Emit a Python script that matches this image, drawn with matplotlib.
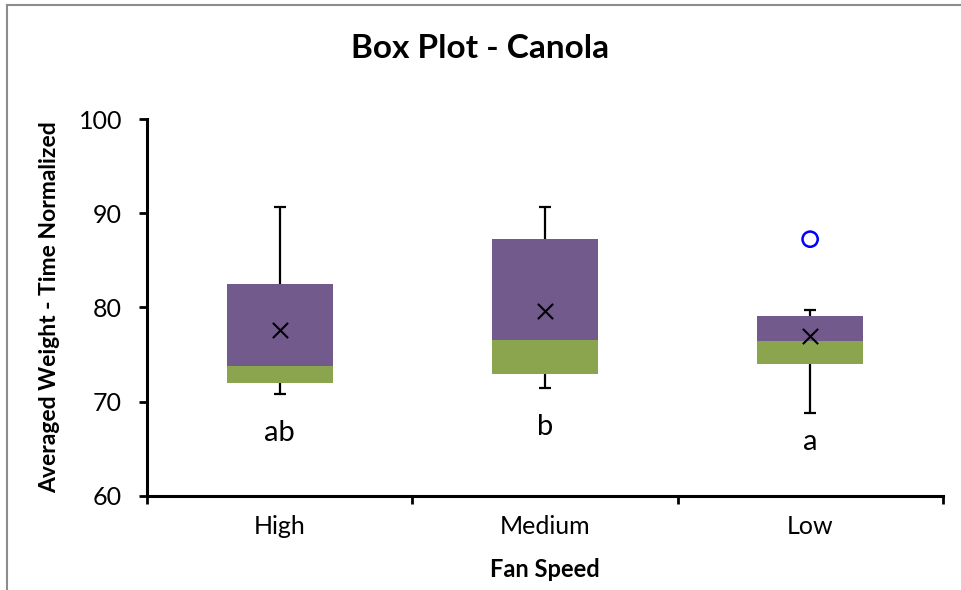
import matplotlib
matplotlib.use("Agg")
import matplotlib.pyplot as plt
from matplotlib.lines import Line2D

categories = ["High", "Medium", "Low"]
whisker_low = [70.8, 71.45, 68.8]
q1 = [71.93, 72.95, 73.95]
median = [73.8, 76.5, 76.45]
q3 = [82.44, 87.32, 79.08]
whisker_high = [90.65, 90.65, 79.68]
means = [77.56, 79.64, 76.99]
outlier_cat = [2]
outlier_val = [87.25]
letters = ["ab", "b", "a"]
letter_y = [66.66, 67.3, 65.7]
yticks = [60, 70, 80, 90, 100]

plt.rcParams['font.family'] = ['Lato', 'DejaVu Sans']

fig = plt.figure(figsize=(9.61, 5.90), dpi=100)
ax = fig.add_axes([0.153, 0.1599, 0.981 - 0.153, 0.798 - 0.1599])

x = list(range(len(categories)))
purple = "#725A8D"
green = "#8AA54D"
bw = 0.4

# whiskers
ax.vlines(x, q3, whisker_high, color="black", lw=1.6, zorder=2)
ax.vlines(x, whisker_low, q1, color="black", lw=1.6, zorder=2)
ax.hlines(whisker_high, [i - 0.023 for i in x], [i + 0.023 for i in x], color="black", lw=1.6, zorder=2)
ax.hlines(whisker_low, [i - 0.023 for i in x], [i + 0.023 for i in x], color="black", lw=1.6, zorder=2)

# boxes
ax.bar(x, [m - a for m, a in zip(median, q1)], bottom=q1, width=bw, color=green, zorder=3)
ax.bar(x, [b - m for b, m in zip(q3, median)], bottom=median, width=bw, color=purple, zorder=3)

# means
ax.scatter(x, means, marker="x", s=120, color="black", linewidths=1.5, zorder=4)
# outlier
ax.scatter(outlier_cat, outlier_val, marker="o", s=120, facecolors="none",
           edgecolors="#0000FF", linewidths=1.8, zorder=4)

for xi, t, yy in zip(x, letters, letter_y):
    ax.text(xi, yy, t, ha="center", va="center", fontsize=21, color="black")

ax.set_xlim(-0.5, 2.5)
ax.set_ylim(60, 100)
ax.set_yticks(yticks)
ax.set_yticklabels([str(v) for v in yticks], fontsize=18)
ax.set_xticks([-0.5, 0.5, 1.5, 2.5])
ax.set_xticklabels([])
ax.set_xticks(x, minor=True)
ax.set_xticklabels(categories, minor=True, fontsize=18)
ax.tick_params(axis="x", which="major", length=6, width=2, direction="out")
ax.tick_params(axis="x", which="minor", length=0, pad=14)
ax.tick_params(axis="y", length=6, width=2, direction="out", pad=12)

for s in ["top", "right"]:
    ax.spines[s].set_visible(False)
for s in ["left", "bottom"]:
    ax.spines[s].set_linewidth(2.2)

ax.set_xlabel("Fan Speed", fontsize=17, fontweight="bold")
ax.set_ylabel("Averaged Weight - Time Normalized", fontsize=16.5, fontweight="bold")
ax.xaxis.set_label_coords(0.5, (495.7 - 570) / 376.7)
ax.xaxis.label.set_va("center")
ax.yaxis.set_label_coords((50 - 147) / 796, 0.5)
ax.yaxis.label.set_va("center")

fig.text(0.5, 1 - 48 / 590, "Box Plot - Canola", ha="center", va="center",
         fontsize=24, fontweight="bold")

# chart area border
fig.add_artist(Line2D([7 / 961, 7 / 961], [0, 1 - 5 / 590], transform=fig.transFigure,
                      color="#8C8C8C", lw=1.5))
fig.add_artist(Line2D([7 / 961, 1], [1 - 5 / 590, 1 - 5 / 590], transform=fig.transFigure,
                      color="#8C8C8C", lw=1.5))

fig.savefig("out.png", dpi=100)
